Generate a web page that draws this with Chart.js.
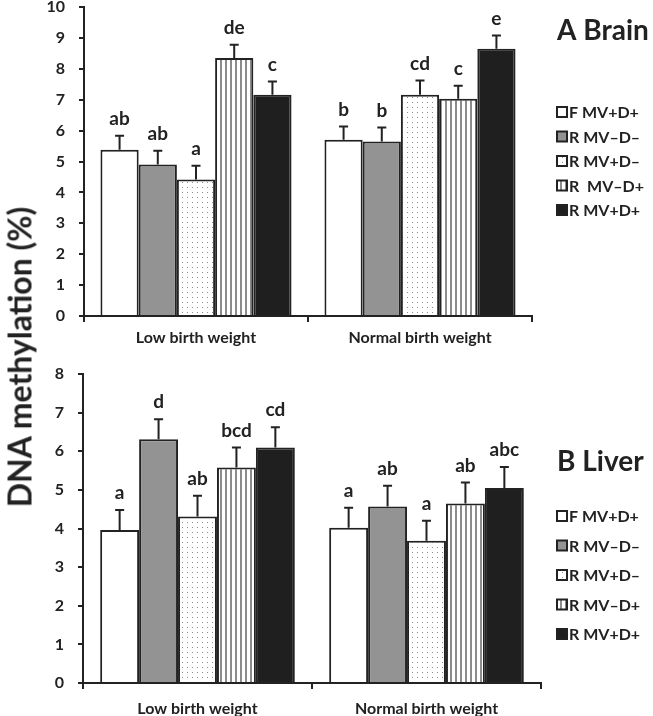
<!DOCTYPE html>
<html>
<head>
<meta charset="utf-8">
<script src="https://cdn.jsdelivr.net/npm/chart.js@4.4.0/dist/chart.umd.min.js"></script>
<style>
  html, body { margin: 0; padding: 0; background: #fff; }
  body { width: 653px; height: 716px; position: relative; overflow: hidden; font-family: Lato, sans-serif; }
  canvas { position: absolute; left: 0; }
  #brainChart { top: -20px; }
  #liverChart { top: 345px; }
  #yTitle {
    position: absolute; left: 19px; top: 357px;
    transform: translate(-50%, -50%) rotate(-90deg);
    font: bold 32px Lato, sans-serif; color: #222; white-space: nowrap;
  }
</style>
</head>
<body>
<canvas id="brainChart" width="653" height="370"></canvas>
<canvas id="liverChart" width="653" height="371"></canvas>
<div id="yTitle">DNA methylation (%)</div>
<script>
// categories
const groups = ['Low birth weight', 'Normal birth weight'];
const brainLabels = ['F MV+D+', 'R MV–D–', 'R MV+D–', 'R  MV–D+', 'R MV+D+'];
const liverLabels = ['F MV+D+', 'R MV–D–', 'R MV+D–', 'R MV–D+', 'R MV+D+'];

// A Brain: means, SEM, letters  [low, normal]
const brainF    = [5.38, 5.70];
const brainRmm  = [4.90, 5.65];
const brainRpm  = [4.42, 7.16];
const brainRmp  = [8.35, 7.03];
const brainRpp  = [7.16, 8.65];
const brainErrF   = [0.45, 0.43];
const brainErrRmm = [0.45, 0.45];
const brainErrRpm = [0.44, 0.46];
const brainErrRmp = [0.43, 0.42];
const brainErrRpp = [0.43, 0.43];
const brainSigF   = ['ab', 'b'];
const brainSigRmm = ['ab', 'b'];
const brainSigRpm = ['a', 'cd'];
const brainSigRmp = ['de', 'c'];
const brainSigRpp = ['c', 'e'];
const brainTicks = [0, 1, 2, 3, 4, 5, 6, 7, 8, 9, 10];

// B Liver
const liverF    = [3.96, 4.02];
const liverRmm  = [6.31, 4.57];
const liverRpm  = [4.31, 3.68];
const liverRmp  = [5.58, 4.65];
const liverRpp  = [6.10, 5.05];
const liverErrF   = [0.52, 0.52];
const liverErrRmm = [0.52, 0.54];
const liverErrRpm = [0.54, 0.52];
const liverErrRmp = [0.52, 0.54];
const liverErrRpp = [0.52, 0.54];
const liverSigF   = ['a', 'a'];
const liverSigRmm = ['d', 'ab'];
const liverSigRpm = ['ab', 'a'];
const liverSigRmp = ['bcd', 'ab'];
const liverSigRpp = ['cd', 'abc'];
const liverTicks = [0, 1, 2, 3, 4, 5, 6, 7, 8];

const INK = '#222';

// fill patterns
function dotPattern() {
  const c = document.createElement('canvas');
  c.width = 5; c.height = 5;
  const g = c.getContext('2d');
  g.fillStyle = '#fff'; g.fillRect(0, 0, 5, 5);
  g.fillStyle = '#8a8a8a'; g.fillRect(2, 2, 1, 1);
  return g.createPattern(c, 'repeat');
}
function stripePattern() {
  const c = document.createElement('canvas');
  c.width = 5; c.height = 4;
  const g = c.getContext('2d');
  g.fillStyle = '#fff'; g.fillRect(0, 0, 5, 4);
  g.fillStyle = '#8c8c8c'; g.fillRect(0, 0, 2, 4);
  return g.createPattern(c, 'repeat');
}
const fills = ['#ffffff', '#939393', dotPattern(), stripePattern(), '#1f1f1f'];

// error bars (upper only) and significance letters
const errorBars = {
  id: 'errorBars',
  afterDatasetsDraw(chart) {
    const ctx = chart.ctx;
    const y = chart.scales.y;
    ctx.save();
    chart.data.datasets.forEach((ds, i) => {
      chart.getDatasetMeta(i).data.forEach((bar, j) => {
        const top = y.getPixelForValue(ds.data[j] + ds.errors[j]);
        ctx.strokeStyle = INK;
        ctx.lineWidth = 2;
        ctx.beginPath();
        ctx.moveTo(bar.x, bar.y);
        ctx.lineTo(bar.x, top);
        ctx.moveTo(bar.x - 4.5, top);
        ctx.lineTo(bar.x + 4.5, top);
        ctx.stroke();
        ctx.fillStyle = INK;
        ctx.font = 'bold 19px Lato, sans-serif';
        ctx.textAlign = 'center';
        ctx.textBaseline = 'middle';
        ctx.fillText(ds.letters[j], bar.x, top - 17);
      });
    });
    ctx.restore();
  }
};

// panel title + legend at the right side
const panelDecor = {
  id: 'panelDecor',
  afterDraw(chart, args, opts) {
    const ctx = chart.ctx;
    ctx.save();
    ctx.fillStyle = INK;
    ctx.font = 'bold 28px Lato, sans-serif';
    ctx.textAlign = 'left';
    ctx.textBaseline = 'middle';
    ctx.fillText(opts.title, opts.x, opts.titleY);
    ctx.font = 'bold 16px Lato, sans-serif';
    chart.data.datasets.forEach((ds, i) => {
      const cy = opts.legendY + i * opts.step;
      ctx.fillStyle = ds.backgroundColor;
      ctx.fillRect(opts.x, cy - 5, 10, 10);
      ctx.strokeStyle = INK;
      ctx.lineWidth = 2;
      ctx.strokeRect(opts.x, cy - 5, 10, 10);
      ctx.fillStyle = INK;
      ctx.fillText(ds.label, opts.x + 12, cy + 1);
    });
    ctx.restore();
  }
};

function makeDatasets(labels, means, errs, sigs, catPct) {
  return means.map((m, i) => ({
    label: labels[i],
    data: m,
    errors: errs[i],
    letters: sigs[i],
    backgroundColor: fills[i],
    borderColor: INK,
    borderWidth: 2,
    borderSkipped: 'bottom',
    barPercentage: 1.0,
    categoryPercentage: catPct
  }));
}

function makeChart(id, datasets, ticks, pad, xHeight, xPad, decor) {
  return new Chart(document.getElementById(id), {
    type: 'bar',
    data: { labels: groups, datasets: datasets },
    options: {
      responsive: false,
      animation: false,
      layout: { padding: pad },
      plugins: {
        legend: { display: false },
        tooltip: { enabled: false },
        panelDecor: decor
      },
      scales: {
        x: {
          grid: { display: true, offset: true, drawOnChartArea: false, tickLength: 6, color: INK, lineWidth: 2 },
          border: { display: true, color: INK, width: 2 },
          ticks: { color: INK, padding: xPad, font: { family: 'Lato', weight: 'bold', size: 16 } },
          afterFit(s) { s.height = xHeight; }
        },
        y: {
          min: 0,
          max: ticks[ticks.length - 1],
          afterBuildTicks(s) { s.ticks = ticks.map(v => ({ value: v })); },
          grid: { display: true, drawOnChartArea: false, tickLength: 5, color: INK, lineWidth: 2 },
          border: { display: true, color: INK, width: 2 },
          ticks: { color: INK, padding: 14, font: { family: 'Lato', weight: 'bold', size: 16 } },
          afterFit(s) { s.width = pad.yWidth; }
        }
      }
    },
    plugins: [errorBars, panelDecor]
  });
}

makeChart('brainChart',
  makeDatasets(brainLabels,
    [brainF, brainRmm, brainRpm, brainRmp, brainRpp],
    [brainErrF, brainErrRmm, brainErrRpm, brainErrRmp, brainErrRpp],
    [brainSigF, brainSigRmm, brainSigRpm, brainSigRmp, brainSigRpp], 0.853),
  brainTicks,
  { left: 0, right: 121, top: 27, bottom: 0, yWidth: 84 }, 34, 6,
  { title: 'A Brain', x: 557, titleY: 51, legendY: 132, step: 24.5 });

makeChart('liverChart',
  makeDatasets(liverLabels,
    [liverF, liverRmm, liverRpm, liverRmp, liverRpp],
    [liverErrF, liverErrRmm, liverErrRpm, liverErrRmp, liverErrRpp],
    [liverSigF, liverSigRmm, liverSigRpm, liverSigRmp, liverSigRpp], 0.85),
  liverTicks,
  { left: 0, right: 112, top: 29, bottom: 0, yWidth: 83 }, 33, 10,
  { title: 'B Liver', x: 557, titleY: 117, legendY: 171, step: 29.5 });
</script>
</body>
</html>
